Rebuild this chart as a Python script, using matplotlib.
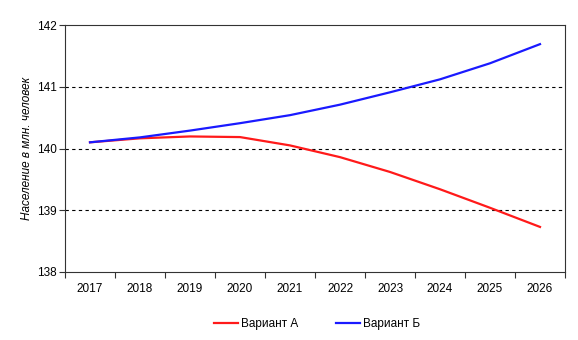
import matplotlib
matplotlib.use("Agg")
import matplotlib.pyplot as plt

years = ["2017", "2018", "2019", "2020", "2021", "2022", "2023", "2024", "2025", "2026"]
variant_a = [140.10, 140.165, 140.195, 140.185, 140.05, 139.86, 139.62, 139.34, 139.04, 138.73]
variant_b = [140.10, 140.18, 140.29, 140.41, 140.54, 140.71, 140.91, 141.12, 141.38, 141.69]
yticks = [138, 139, 140, 141, 142]

plt.rcParams['font.family'] = ['Liberation Sans', 'DejaVu Sans']

fig = plt.figure(figsize=(5.78, 3.4), dpi=100)
ax = fig.add_axes([65/578, 68/340, 500/578, 247/340])

x = list(range(len(years)))
ax.plot(x, variant_a, color='#ff1a1a', lw=1.6, label='Вариант А', solid_joinstyle='round')
ax.plot(x, variant_b, color='#1a1aff', lw=1.6, label='Вариант Б', solid_joinstyle='round')

ax.set_xlim(-0.5, len(years) - 0.5)
ax.set_ylim(138, 142)
ax.set_yticks(yticks)
ax.set_yticklabels([str(t) for t in yticks], fontsize=8.5)
for t in yticks[1:-1]:
    ax.axhline(t, color='black', lw=0.8, ls=(0, (3, 3)), zorder=0)

ax.set_xticks(x)
ax.set_xticklabels(years, fontsize=8.5)
ax.tick_params(axis='x', length=0, pad=8)
ax.set_xticks([i - 0.5 for i in range(len(years) + 1)], minor=True)
ax.tick_params(axis='x', which='minor', length=4, width=0.8, color='#333333', direction='out')
ax.tick_params(axis='y', length=4, width=0.8, color='#333333', direction='out', pad=2)

for s in ax.spines.values():
    s.set_color('#333333')
    s.set_linewidth(0.8)

ax.set_ylabel('Население в млн. человек', fontsize=8.5, style='italic', labelpad=0)
ax.yaxis.set_label_coords(-32/500, 0.5)

fig.legend(loc='center', bbox_to_anchor=(317/578, 16/340), ncol=2, frameon=False,
           fontsize=8.5, handlelength=2.0, handletextpad=0.25, columnspacing=3.2)

fig.savefig('out.png', dpi=100)
